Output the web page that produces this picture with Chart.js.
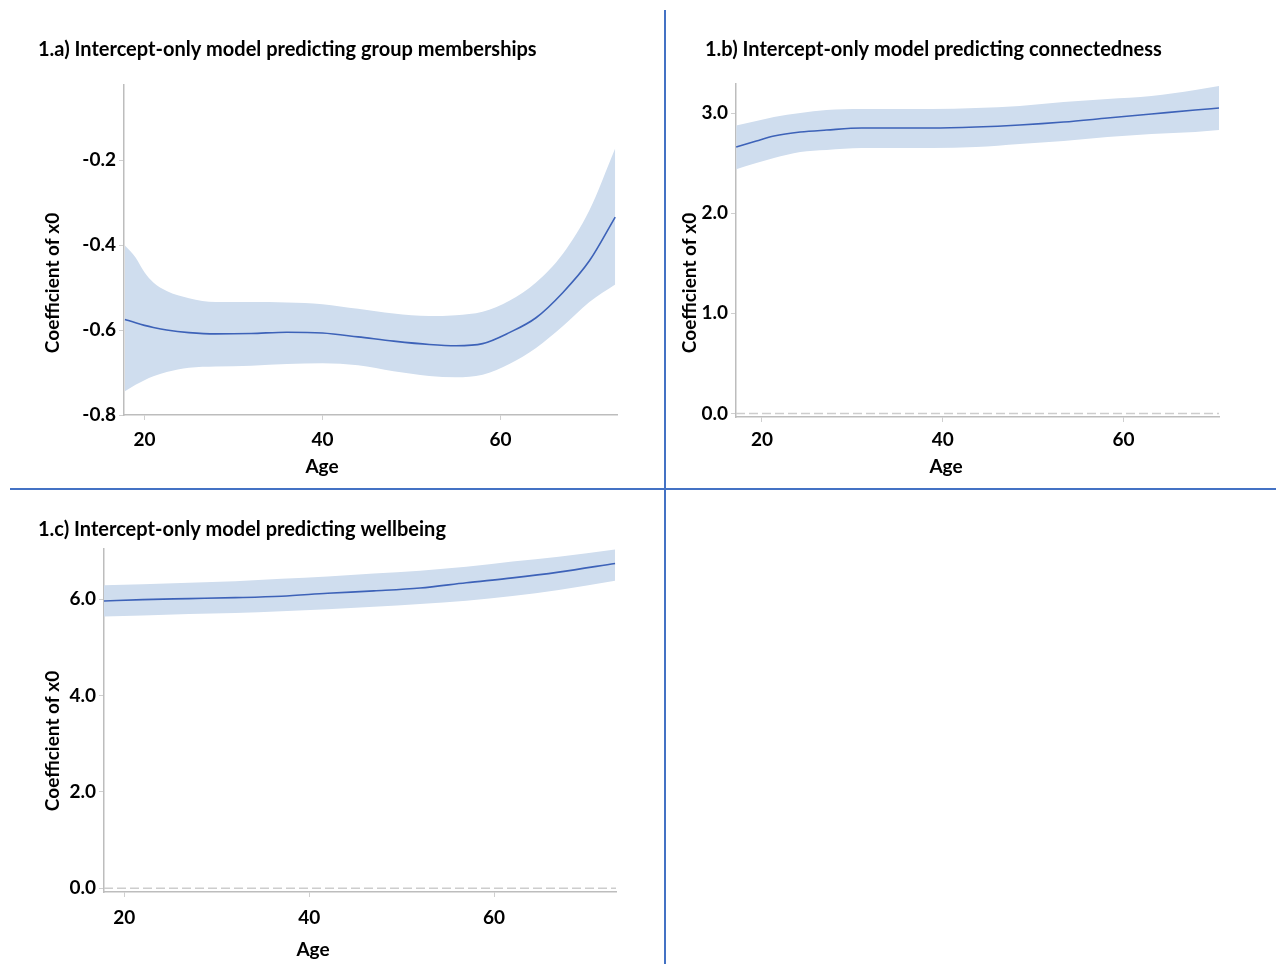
<!DOCTYPE html>
<html>
<head>
<meta charset="utf-8">
<title>Intercept-only models by age</title>
<script src="https://cdn.jsdelivr.net/npm/chart.js@4/dist/chart.umd.min.js"></script>
<style>
  html, body { margin: 0; padding: 0; background: #fff; }
  body { width: 1276px; height: 964px; position: relative; overflow: hidden; }
  .panel { position: absolute; }
  .panel canvas { display: block; }
  .sep { position: absolute; background: #4472c4; }
</style>
</head>
<body>
<div class="panel" style="left:0px;top:0px;"><canvas id="panelA" width="660" height="485"></canvas></div>
<div class="panel" style="left:668px;top:0px;"><canvas id="panelB" width="608" height="485"></canvas></div>
<div class="panel" style="left:0px;top:492px;"><canvas id="panelC" width="660" height="472"></canvas></div>
<div class="sep" style="left:664px;top:10px;width:2px;height:954px;"></div>
<div class="sep" style="left:10px;top:488px;width:1266px;height:2px;"></div>

<script>
// ---- 1.a group memberships: coefficient of x0 across age ----
const ageA   = [17.8, 19, 20, 21, 22.5, 25, 28, 32, 36, 40, 44, 48, 52, 55, 58, 61, 64, 67, 70, 72.9];
const fitA   = [-0.575, -0.583, -0.589, -0.594, -0.600, -0.606, -0.609, -0.608, -0.605, -0.607,
                -0.616, -0.626, -0.634, -0.637, -0.632, -0.606, -0.571, -0.512, -0.437, -0.334];
const upperA = [-0.401, -0.429, -0.464, -0.488, -0.508, -0.525, -0.534, -0.534, -0.535, -0.539,
                -0.550, -0.561, -0.567, -0.565, -0.557, -0.531, -0.488, -0.421, -0.318, -0.172];
const lowerA = [-0.744, -0.729, -0.718, -0.709, -0.699, -0.689, -0.686, -0.684, -0.680, -0.678,
                -0.683, -0.697, -0.708, -0.711, -0.705, -0.680, -0.642, -0.591, -0.534, -0.493];

// ---- 1.b connectedness ----
const ageB   = [17.15, 19.38, 21.33, 24.24, 27.15, 31.04, 34.92, 38.81, 43.67, 48.52, 53.38, 58.23, 63.09, 67.94, 70.57];
const fitB   = [2.66, 2.72, 2.77, 2.81, 2.83, 2.85, 2.85, 2.85, 2.86, 2.88, 2.91, 2.95, 2.99, 3.03, 3.05];
const upperB = [2.875, 2.92, 2.96, 3.00, 3.03, 3.04, 3.04, 3.04, 3.05, 3.07, 3.11, 3.14, 3.17, 3.23, 3.27];
const lowerB = [2.44, 2.50, 2.55, 2.61, 2.63, 2.65, 2.65, 2.65, 2.66, 2.69, 2.72, 2.76, 2.79, 2.81, 2.83];

// ---- 1.c wellbeing ----
const ageC   = [17.8, 22, 27, 32, 37, 42, 47, 52, 57, 62, 67, 73.1];
const fitC   = [5.96, 5.99, 6.01, 6.03, 6.06, 6.12, 6.17, 6.23, 6.34, 6.44, 6.56, 6.74];
const upperC = [6.29, 6.31, 6.34, 6.37, 6.42, 6.47, 6.53, 6.59, 6.67, 6.78, 6.88, 7.03];
const lowerC = [5.64, 5.66, 5.69, 5.71, 5.75, 5.79, 5.84, 5.90, 5.965, 6.065, 6.19, 6.38];

// ---- tick labels ----
const ageTicks = [20, 40, 60];
const ticksA = [-0.8, -0.6, -0.4, -0.2];
const ticksB = [0, 1, 2, 3];
const ticksC = [0, 2, 4, 6];

const titles = [
  '1.a) Intercept-only model predicting group memberships',
  '1.b) Intercept-only model predicting connectedness',
  '1.c) Intercept-only model predicting wellbeing'
];
const xTitle = 'Age';
const yTitle = 'Coefficient of x0';
const zeroLevel = 0;

const FONT = 'Lato, "DejaVu Sans", sans-serif';
const BAND = '#cfddee';
const LINE = '#3d62b8';
const AXIS = '#bdbdbd';

// Panel heading and axis captions, drawn at fixed spots inside each canvas
const panelText = {
  id: 'panelText',
  afterDraw(chart, args, o) {
    const ctx = chart.ctx;
    ctx.save();
    ctx.fillStyle = '#000';
    ctx.textBaseline = 'middle';
    ctx.font = 'bold 20px ' + FONT;
    ctx.textAlign = 'left';
    ctx.fillText(o.title, o.titleAt[0], o.titleAt[1]);
    ctx.font = 'bold 19px ' + FONT;
    ctx.textAlign = 'center';
    ctx.fillText(o.xText, o.xAt[0], o.xAt[1]);
    ctx.translate(o.yAt[0], o.yAt[1]);
    ctx.rotate(-Math.PI / 2);
    ctx.fillText(o.yText, 0, 0);
    ctx.restore();
  }
};

function pts(xs, ys) { return xs.map((x, i) => ({ x: x, y: ys[i] })); }

function makePanel(id, o) {
  const datasets = [
    { data: pts(o.age, o.upper), borderWidth: 0, pointRadius: 0, fill: '+1', order: 3,
      backgroundColor: BAND, borderColor: BAND, cubicInterpolationMode: 'monotone' },
    { data: pts(o.age, o.lower), borderWidth: 0, pointRadius: 0, fill: false, order: 3,
      borderColor: BAND, cubicInterpolationMode: 'monotone' }
  ];
  if (o.zeroLine) {
    datasets.push({ data: [{ x: o.xMin, y: zeroLevel }, { x: o.xMax, y: zeroLevel }], order: 2,
      borderColor: '#cdcdcd', borderWidth: 1.5, borderDash: [9, 4], pointRadius: 0, fill: false });
  }
  datasets.push({ data: pts(o.age, o.fit), borderColor: LINE, borderWidth: 1.6, pointRadius: 0,
    fill: false, order: 1, cubicInterpolationMode: 'monotone' });

  return new Chart(document.getElementById(id), {
    type: 'line',
    data: { datasets: datasets },
    plugins: [panelText],
    options: {
      responsive: false,
      animation: false,
      layout: { padding: o.padding },
      plugins: {
        legend: { display: false },
        tooltip: { enabled: false },
        title: { display: false },
        panelText: { title: o.title, titleAt: o.titleAt, xText: xTitle, yText: yTitle,
                     xAt: o.xCaption, yAt: o.yCaption }
      },
      scales: {
        x: {
          type: 'linear', min: o.xMin, max: o.xMax,
          afterBuildTicks: s => { s.ticks = ageTicks.map(v => ({ value: v })); },
          afterFit: s => { s.height = o.xHeight; },
          ticks: { color: '#000', padding: o.xTickPad, font: { family: FONT, size: 19, weight: 'bold' },
                   callback: v => String(v) },
          grid: { drawOnChartArea: false, drawTicks: true, tickLength: 5, color: '#cfcfcf' },
          border: { display: true, color: AXIS, width: 1.5 },
          title: { display: false }
        },
        y: {
          type: 'linear', min: o.yMin, max: o.yMax,
          afterBuildTicks: s => { s.ticks = o.yTicks.map(v => ({ value: v })); },
          afterFit: s => { s.width = o.yWidth; },
          ticks: { color: '#000', padding: 3, font: { family: FONT, size: 19, weight: 'bold' },
                   callback: v => Number(v).toFixed(1) },
          grid: { drawOnChartArea: false, drawTicks: true, tickLength: 5, color: '#cfcfcf' },
          border: { display: true, color: AXIS, width: 1.5 },
          title: { display: false }
        }
      }
    }
  });
}

makePanel('panelA', {
  title: titles[0], age: ageA, fit: fitA, upper: upperA, lower: lowerA,
  xMin: 17.7, xMax: 73.1, yMin: -0.8, yMax: -0.023, yTicks: ticksA, zeroLine: false,
  padding: { left: 38, right: 43, top: 85, bottom: 0 },
  yWidth: 86, xHeight: 70, xTickPad: 8.6,
  titleAt: [38, 50], xCaption: [322, 467], yCaption: [53, 283]
});

makePanel('panelB', {
  title: titles[1], age: ageB, fit: fitB, upper: upperB, lower: lowerB,
  xMin: 17.13, xMax: 70.57, yMin: -0.035, yMax: 3.29, yTicks: ticksB, zeroLine: true,
  padding: { left: 10, right: 57, top: 84, bottom: 0 },
  yWidth: 58, xHeight: 68, xTickPad: 6.6,
  titleAt: [37, 50], xCaption: [278, 467], yCaption: [22, 283]
});

makePanel('panelC', {
  title: titles[2], age: ageC, fit: fitC, upper: upperC, lower: lowerC,
  xMin: 17.8, xMax: 73.2, yMin: -0.08, yMax: 7.04, yTicks: ticksC, zeroLine: true,
  padding: { left: 38, right: 44, top: 57, bottom: 0 },
  yWidth: 66, xHeight: 72, xTickPad: 9.6,
  titleAt: [38, 38], xCaption: [313, 458], yCaption: [53, 249]
});
</script>
</body>
</html>
